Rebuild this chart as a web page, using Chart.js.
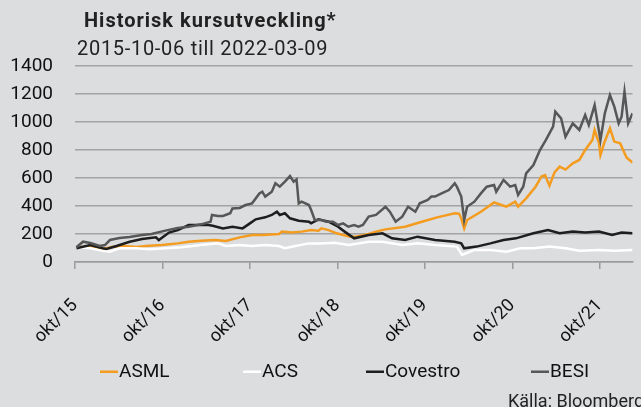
<!DOCTYPE html>
<html>
<head>
<meta charset="utf-8">
<script src="https://cdn.jsdelivr.net/npm/chart.js@4"></script>
<style>
  html, body { margin: 0; padding: 0; background: #dcdddf; overflow: hidden; }
  canvas { display: block; }
</style>
</head>
<body>
<canvas id="kursChart" width="641" height="407"></canvas>
<script>
// x = months since okt/15, index = 100 at start
const seriesNames = ["ASML", "ACS", "Covestro", "BESI"];
const tickLabels = ["okt/15", "okt/16", "okt/17", "okt/18", "okt/19", "okt/20", "okt/21"];

const asmlMonths = [0.2, 2.1, 3.8, 5.1, 6.5, 8.4, 9.7, 11.9, 14.1, 15.6, 17.3, 19.2, 20.7, 22.6, 24.3, 25.7, 28.0, 28.4, 29.7, 31.1, 32.4, 33.4, 33.8, 34.8, 35.9, 36.8, 37.8, 38.6, 40.3, 41.3, 42.6, 45.3, 47.6, 49.7, 52.1, 52.7, 53.0, 53.4, 53.8, 55.7, 57.5, 59.2, 60.4, 60.8, 61.9, 63.2, 64.0, 64.5, 65.1, 65.8, 66.5, 67.3, 68.3, 69.2, 70.0, 71.0, 71.3, 71.9, 72.1, 72.6, 73.4, 74.0, 74.8, 75.3, 75.7, 76.5];
const asmlValues = [107, 107, 93, 107, 114, 107, 114, 121, 133, 145, 152, 157, 150, 176, 193, 193, 200, 217, 210, 217, 228, 224, 240, 228, 205, 193, 181, 181, 200, 217, 233, 252, 288, 319, 348, 345, 312, 240, 300, 359, 425, 395, 431, 395, 455, 538, 610, 621, 545, 640, 681, 660, 705, 729, 800, 871, 943, 850, 764, 848, 955, 860, 848, 790, 745, 710];

const acsMonths = [0.2, 2.1, 3.8, 4.8, 6.1, 8.4, 10.2, 12.4, 14.6, 17.3, 19.6, 20.7, 22.6, 24.3, 26.1, 28.0, 28.8, 30.2, 32.1, 33.8, 35.6, 37.6, 40.3, 42.2, 44.9, 47.0, 49.4, 52.4, 53.1, 54.8, 57.0, 59.2, 61.1, 62.9, 65.1, 67.3, 69.2, 71.9, 74.0, 76.5];
const acsValues = [105, 98, 81, 74, 98, 98, 91, 98, 105, 121, 133, 114, 121, 114, 121, 114, 98, 114, 133, 133, 138, 121, 145, 145, 121, 133, 121, 110, 50, 86, 86, 74, 98, 98, 110, 98, 81, 86, 81, 86];

const covestroMonths = [0.2, 2.1, 3.8, 4.3, 5.7, 7.5, 9.2, 11.1, 11.5, 12.9, 14.1, 15.6, 17.0, 18.3, 18.9, 20.3, 21.6, 23.0, 24.0, 24.8, 26.1, 27.0, 27.7, 28.1, 28.8, 29.5, 30.7, 32.1, 32.4, 33.4, 34.8, 36.1, 37.0, 38.3, 40.3, 42.2, 43.5, 45.3, 47.0, 49.4, 52.1, 53.0, 53.4, 55.1, 57.0, 58.8, 60.5, 62.9, 64.9, 66.5, 68.3, 70.0, 71.9, 73.7, 75.0, 76.5];
const covestroValues = [98, 121, 98, 93, 114, 145, 164, 176, 157, 210, 228, 264, 264, 264, 259, 240, 252, 240, 276, 305, 319, 336, 359, 336, 348, 312, 295, 288, 276, 305, 288, 252, 217, 169, 193, 205, 169, 157, 181, 157, 145, 133, 98, 110, 133, 157, 169, 205, 228, 205, 217, 210, 217, 193, 210, 205];

const besiMonths = [0.2, 1.1, 2.1, 3.4, 4.1, 4.8, 6.1, 7.5, 9.2, 10.5, 12.4, 14.1, 15.6, 17.3, 18.6, 18.8, 19.6, 20.3, 21.3, 21.6, 22.6, 23.4, 24.3, 25.3, 25.7, 26.1, 27.0, 27.5, 28.1, 28.8, 29.5, 30.0, 30.4, 30.7, 31.1, 32.1, 32.4, 32.9, 33.8, 34.5, 35.4, 36.1, 36.8, 37.5, 38.3, 38.9, 39.5, 40.3, 41.3, 42.6, 43.2, 44.0, 44.9, 45.7, 46.7, 47.3, 48.4, 48.9, 49.4, 50.3, 51.3, 52.1, 52.4, 53.0, 53.4, 53.8, 54.8, 55.7, 56.5, 57.5, 57.8, 58.8, 59.7, 60.4, 60.8, 61.5, 61.9, 62.9, 63.8, 64.6, 65.6, 65.9, 66.7, 67.3, 68.3, 69.2, 70.0, 70.5, 71.3, 72.1, 72.7, 73.4, 74.0, 74.6, 75.0, 75.4, 75.9, 76.5];
const besiValues = [105, 145, 136, 114, 121, 157, 171, 178, 193, 200, 224, 243, 252, 269, 288, 336, 329, 329, 348, 383, 386, 407, 419, 490, 502, 467, 502, 562, 538, 574, 614, 574, 590, 419, 431, 407, 371, 300, 300, 288, 288, 264, 276, 252, 264, 252, 264, 324, 336, 395, 359, 288, 324, 395, 359, 419, 443, 467, 467, 490, 514, 562, 538, 467, 300, 395, 431, 490, 538, 550, 502, 586, 538, 550, 479, 538, 633, 693, 800, 871, 967, 1074, 1026, 895, 990, 943, 1050, 979, 1121, 871, 1062, 1193, 1110, 990, 1038, 1217, 990, 1062];

const yTicks = [0, 200, 400, 600, 800, 1000, 1200, 1400];

const colors = ["#f39c1f", "#ffffff", "#1e1e1e", "#575757"];
const FONT = "Roboto, 'DejaVu Sans', sans-serif";

function toPoints(xs, ys) {
  return xs.map((x, i) => ({ x: x, y: ys[i] }));
}

const allMonths = [asmlMonths, acsMonths, covestroMonths, besiMonths];
const allValues = [asmlValues, acsValues, covestroValues, besiValues];

const datasets = seriesNames.map((name, i) => ({
  label: name,
  data: toPoints(allMonths[i], allValues[i]),
  borderColor: colors[i],
  backgroundColor: colors[i],
  borderWidth: 2.5,
  pointRadius: 0,
  tension: 0,
  order: seriesNames.length - i,
}));

const decorPlugin = {
  id: "decor",
  beforeDraw(chart) {
    const ctx = chart.ctx;
    ctx.save();
    ctx.fillStyle = "#dcdddf";
    ctx.fillRect(0, 0, chart.width, chart.height);
    ctx.restore();
  },
  afterDraw(chart) {
    const ctx = chart.ctx;
    ctx.save();
    ctx.textBaseline = "alphabetic";
    ctx.fillStyle = "#222";
    ctx.font = "bold 20px " + FONT;
    ctx.letterSpacing = "1px";
    ctx.fillText("Historisk kursutveckling*", 84, 27);
    ctx.font = "20px " + FONT;
    ctx.letterSpacing = "0.7px";
    ctx.fillText("2015-10-06 till 2022-03-09", 77, 55);
    ctx.letterSpacing = "0px";

    // legend
    const legendX = [100, 243, 366, 531];
    ctx.font = "19px " + FONT;
    ctx.textBaseline = "middle";
    seriesNames.forEach((name, i) => {
      ctx.fillStyle = colors[i];
      ctx.fillRect(legendX[i], 370.5, 18, 2.5);
      ctx.fillStyle = "#111";
      ctx.fillText(name, legendX[i] + 19, 372);
    });

    ctx.font = "18px " + FONT;
    ctx.fillStyle = "#222";
    ctx.fillText("Källa: Bloomberg", 508, 402);
    ctx.restore();
  },
};

new Chart(document.getElementById("kursChart"), {
  type: "line",
  data: { datasets: datasets },
  options: {
    responsive: false,
    animation: false,
    devicePixelRatio: 1,
    layout: { padding: { top: 66, left: 0, right: 0, bottom: 0 } },
    plugins: {
      legend: { display: false },
      tooltip: { enabled: false },
    },
    scales: {
      x: {
        type: "linear",
        min: 0,
        max: 76.5,
        afterFit: (s) => { s.height = 145; },
        afterBuildTicks: (s) => {
          s.ticks = s.ticks.filter((t) => t.value % 12 === 0 && t.value / 12 < tickLabels.length);
        },
        border: { color: "#9a9a9a", width: 1.5 },
        grid: { drawOnChartArea: false, drawTicks: true, tickLength: 7, color: "#9a9a9a", lineWidth: 1.5 },
        ticks: {
          stepSize: 12,
          autoSkip: false,
          minRotation: 45,
          maxRotation: 45,
          padding: 26,
          color: "#111",
          font: { family: FONT, size: 18 },
          callback: (v) => tickLabels[v / 12],
        },
      },
      y: {
        min: 0,
        max: 1400,
        afterFit: (s) => { s.width = 75; },
        afterBuildTicks: (s) => { s.ticks = yTicks.map((v) => ({ value: v })); },
        border: { display: false },
        grid: { drawTicks: false, color: "#a3a3a3", lineWidth: 1.5 },
        ticks: {
          padding: 22,
          color: "#111",
          font: { family: FONT, size: 19 },
          callback: (v) => String(v),
        },
      },
    },
  },
  plugins: [decorPlugin],
});
</script>
</body>
</html>
